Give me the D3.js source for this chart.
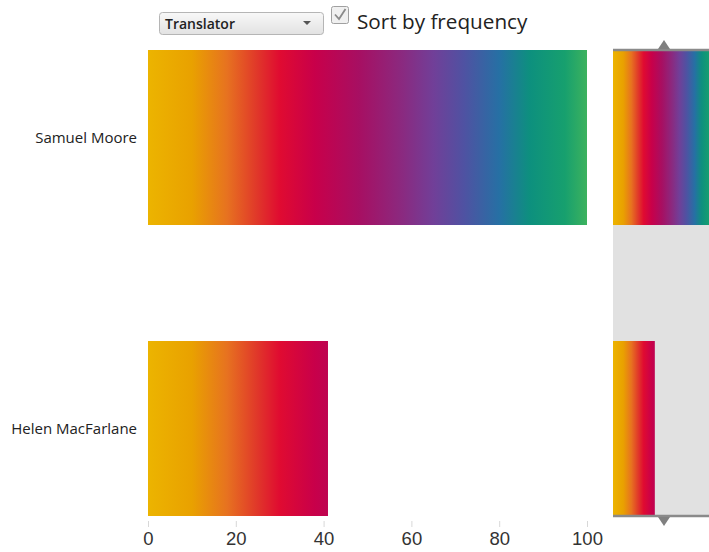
<!DOCTYPE html>
<html>
<head>
<meta charset="utf-8">
<script src="https://cdn.jsdelivr.net/npm/d3@7"></script>
<style>
  body { margin: 0; background: #fff; }
  svg { display: block; font-family: "Open Sans", "DejaVu Sans", sans-serif; }
  .tick line { stroke: #d8d8d8; }
  .tick text { fill: #333; }
</style>
</head>
<body>
<div id="app"></div>
<script>
// data
const names = ['Samuel Moore', 'Helen MacFarlane']
const counts = [100, 41]
const xTicks = [0, 20, 40, 60, 80, 100]
// colour ramp along the value axis
const rampOffsets = [0, 0.10, 0.18, 0.25, 0.30, 0.38, 0.48, 0.58, 0.65, 0.72, 0.80, 0.87, 0.95, 1]
const rampColors = ['#ecb400', '#e9a100', '#e77220', '#e0362a', '#e00b31', '#c8004a', '#a70f62',
                    '#8a2a80', '#713f98', '#4f52a2', '#2670a4', '#0d907e', '#17a06e', '#3db25e']

const W = 709, H = 552
const svg = d3.select('#app').append('svg').attr('width', W).attr('height', H)

const x = d3.scaleLinear().domain([0, 100]).range([148, 587])
const y = d3.scaleBand().domain(names).range([50, 516]).paddingInner(0.3986)
// overview strip on the right
const xm = d3.scaleLinear().domain([0, 100]).range([613, 715])

// gradients in data space so short bars stop early in the ramp
const defs = svg.append('defs')
const addRamp = (id, sc) => {
    const g = defs.append('linearGradient').attr('id', id)
        .attr('gradientUnits', 'userSpaceOnUse')
        .attr('x1', sc(0)).attr('x2', sc(100)).attr('y1', 0).attr('y2', 0)
    g.selectAll('stop').data(rampOffsets).join('stop')
        .attr('offset', d => d)
        .attr('stop-color', (d, i) => rampColors[i])
}
addRamp('ramp-main', x)
addRamp('ramp-mini', xm)

const rows = names.map((n, i) => ({ name: n, value: counts[i] }))

// main bars
svg.append('g').selectAll('rect').data(rows).join('rect')
    .attr('x', x(0))
    .attr('y', d => y(d.name))
    .attr('width', d => x(d.value) - x(0))
    .attr('height', y.bandwidth())
    .attr('fill', 'url(#ramp-main)')

// category labels
svg.append('g').selectAll('text').data(rows).join('text')
    .attr('x', 137)
    .attr('y', d => y(d.name) + y.bandwidth() / 2)
    .attr('dy', '0.35em')
    .attr('text-anchor', 'end')
    .attr('font-size', 15)
    .attr('fill', '#222')
    .text(d => d.name)

// value axis
const ax = svg.append('g').attr('transform', 'translate(0,521)')
    .call(d3.axisBottom(x).tickValues(xTicks).tickSize(6).tickPadding(5))
ax.select('.domain').remove()
ax.selectAll('.tick text').attr('font-size', 18.5)

// overview strip
const mini = svg.append('g')
mini.append('rect').attr('x', 613).attr('y', 50).attr('width', W - 613).attr('height', 466)
    .attr('fill', '#e1e1e1')
mini.selectAll('rect.bar').data(rows).join('rect').attr('class', 'bar')
    .attr('x', xm(0))
    .attr('y', d => y(d.name))
    .attr('width', d => xm(d.value) - xm(0))
    .attr('height', y.bandwidth())
    .attr('fill', 'url(#ramp-mini)')
// brush handles
mini.append('line').attr('x1', 613).attr('x2', W).attr('y1', 50).attr('y2', 50)
    .attr('stroke', '#8a8a8a').attr('stroke-width', 2.5)
mini.append('line').attr('x1', 613).attr('x2', W).attr('y1', 516).attr('y2', 516)
    .attr('stroke', '#8a8a8a').attr('stroke-width', 2.5)
mini.append('path').attr('d', 'M658,49 L664,40 L670,49 Z').attr('fill', '#808080')
mini.append('path').attr('d', 'M658,517 L664,526 L670,517 Z').attr('fill', '#808080')

// controls: dropdown + checkbox
const ctl = svg.append('g')
const sg = defs.append('linearGradient').attr('id', 'sel-bg').attr('x1', 0).attr('x2', 0).attr('y1', 0).attr('y2', 1)
sg.append('stop').attr('offset', 0).attr('stop-color', '#f8f8f8')
sg.append('stop').attr('offset', 1).attr('stop-color', '#e2e2e2')
ctl.append('rect').attr('x', 159.5).attr('y', 12.5).attr('width', 164).attr('height', 22).attr('rx', 3)
    .attr('fill', 'url(#sel-bg)').attr('stroke', '#b5b5b5')
ctl.append('text').attr('x', 165).attr('y', 29).attr('font-size', 14).attr('font-weight', 600)
    .attr('fill', '#222').text('Translator')
ctl.append('path').attr('d', 'M303,21 L311,21 L307,25 Z').attr('fill', '#555')
ctl.append('rect').attr('x', 331.5).attr('y', 6.5).attr('width', 17).attr('height', 17).attr('rx', 2)
    .attr('fill', '#f0f0f0').attr('stroke', '#a0a0a0')
ctl.append('path').attr('d', 'M335,14.5 L339,19 L345.5,9').attr('fill', 'none')
    .attr('stroke', '#8a8a8a').attr('stroke-width', 1.8)
ctl.append('text').attr('x', 357).attr('y', 29).attr('font-size', 20.7).attr('fill', '#222')
    .text('Sort by frequency')
</script>
</body>
</html>
